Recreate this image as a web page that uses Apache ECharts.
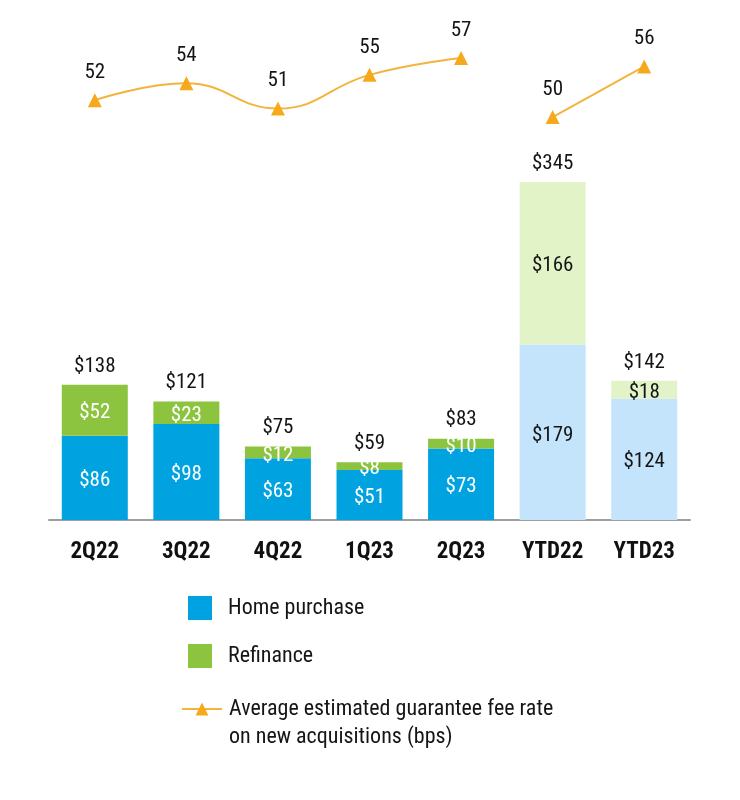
<!DOCTYPE html>
<html>
<head>
<meta charset="utf-8">
<script src="https://cdn.jsdelivr.net/npm/echarts@6/dist/echarts.min.js"></script>
<style>html,body{margin:0;padding:0;background:#fff}#c{width:740px;height:800px}</style>
</head>
<body>
<div id="c"></div>
<script>
var categories = ['2Q22', '3Q22', '4Q22', '1Q23', '2Q23', 'YTD22', 'YTD23'];
var homePurchase = [86, 98, 63, 51, 73, 179, 124];
var refinance = [52, 23, 12, 8, 10, 166, 18];
var feeQuarterly = [52, 54, 51, 55, 57, null, null];
var feeYtd = [null, null, null, null, null, 50, 56];
var lineName = 'Average estimated guarantee fee rate\non new acquisitions (bps)';

var FONT = '"Roboto Condensed", "Open Sans", sans-serif';
var TXT = '#151515';
var BLUE = '#00A3E0', GREEN = '#8CC43F', LBLUE = '#C3E4FA', LGREEN = '#E2F4C7', GOLD = '#F7A91D';
var totals = homePurchase.map(function (v, i) { return v + refinance[i]; });
var isYtd = function (i) { return categories[i].indexOf('YTD') === 0; };

var chart = echarts.init(document.getElementById('c'));
chart.setOption({
  animation: false,
  textStyle: { fontFamily: FONT },
  grid: { left: 49, right: 50, top: 30, bottom: 280 },
  legend: [
    {
      data: ['Home purchase', 'Refinance'],
      orient: 'vertical', left: 188, top: 596, padding: 0,
      itemWidth: 24, itemHeight: 24, itemGap: 24,
      icon: 'rect',
      textStyle: { fontSize: 22, color: TXT, fontFamily: FONT, padding: [3, 0, 0, 11] }
    },
    {
      data: [lineName],
      orient: 'vertical', left: 181, top: 667, padding: 0,
      itemWidth: 40, itemHeight: 16,
      formatter: function (name) { return ' \n' + name; },
      textStyle: { fontSize: 22, color: TXT, fontFamily: FONT, lineHeight: 28, padding: [0, 0, 0, 2] }
    }
  ],
  xAxis: {
    type: 'category', data: categories,
    axisLine: { lineStyle: { color: '#9E9E9E', width: 2 } },
    axisTick: { alignWithLabel: true, length: 10, lineStyle: { color: '#9E9E9E', width: 1.5 } },
    axisLabel: { fontSize: 23, fontWeight: 'bold', color: '#111', margin: 21, fontFamily: FONT }
  },
  yAxis: [
    { type: 'value', min: 0, max: 500, show: false },
    { type: 'value', min: 2.2, max: 60.32, show: false }
  ],
  series: [
    {
      name: 'Home purchase', type: 'bar', stack: 'a', barWidth: 66,
      itemStyle: { color: BLUE },
      data: homePurchase.map(function (v, i) {
        return { value: v, itemStyle: { color: isYtd(i) ? LBLUE : BLUE },
          label: { color: isYtd(i) ? TXT : '#fff' } };
      }),
      label: { show: true, position: 'inside', offset: [0, 3], fontSize: 21, formatter: '${c}', fontFamily: FONT }
    },
    {
      name: 'Refinance', type: 'bar', stack: 'a', barWidth: 66,
      itemStyle: { color: GREEN },
      data: refinance.map(function (v, i) {
        return { value: v, itemStyle: { color: isYtd(i) ? LGREEN : GREEN },
          label: { color: isYtd(i) ? TXT : '#fff' } };
      }),
      label: { show: true, position: 'inside', offset: [0, 3], fontSize: 21, formatter: '${c}', fontFamily: FONT }
    },
    {
      name: 'Total', type: 'bar', barWidth: 66, barGap: '-100%', z: 1,
      itemStyle: { color: 'rgba(0,0,0,0)' },
      data: totals,
      label: { show: true, position: 'top', distance: 8, fontSize: 21, color: TXT, formatter: '${c}', fontFamily: FONT },
      silent: true
    },
    {
      name: lineName, type: 'line', yAxisIndex: 1, smooth: 0.45,
      data: feeQuarterly, connectNulls: false,
      symbol: 'triangle', symbolSize: 14,
      lineStyle: { color: '#F2B43A', width: 2 },
      itemStyle: { color: GOLD },
      label: { show: true, position: 'top', distance: 10, fontSize: 21, color: TXT, fontFamily: FONT }
    },
    {
      name: lineName, type: 'line', yAxisIndex: 1,
      data: feeYtd,
      symbol: 'triangle', symbolSize: 14,
      lineStyle: { color: '#F2B43A', width: 2 },
      itemStyle: { color: GOLD },
      label: { show: true, position: 'top', distance: 10, fontSize: 21, color: TXT, fontFamily: FONT }
    }
  ]
});
</script>
</body>
</html>
